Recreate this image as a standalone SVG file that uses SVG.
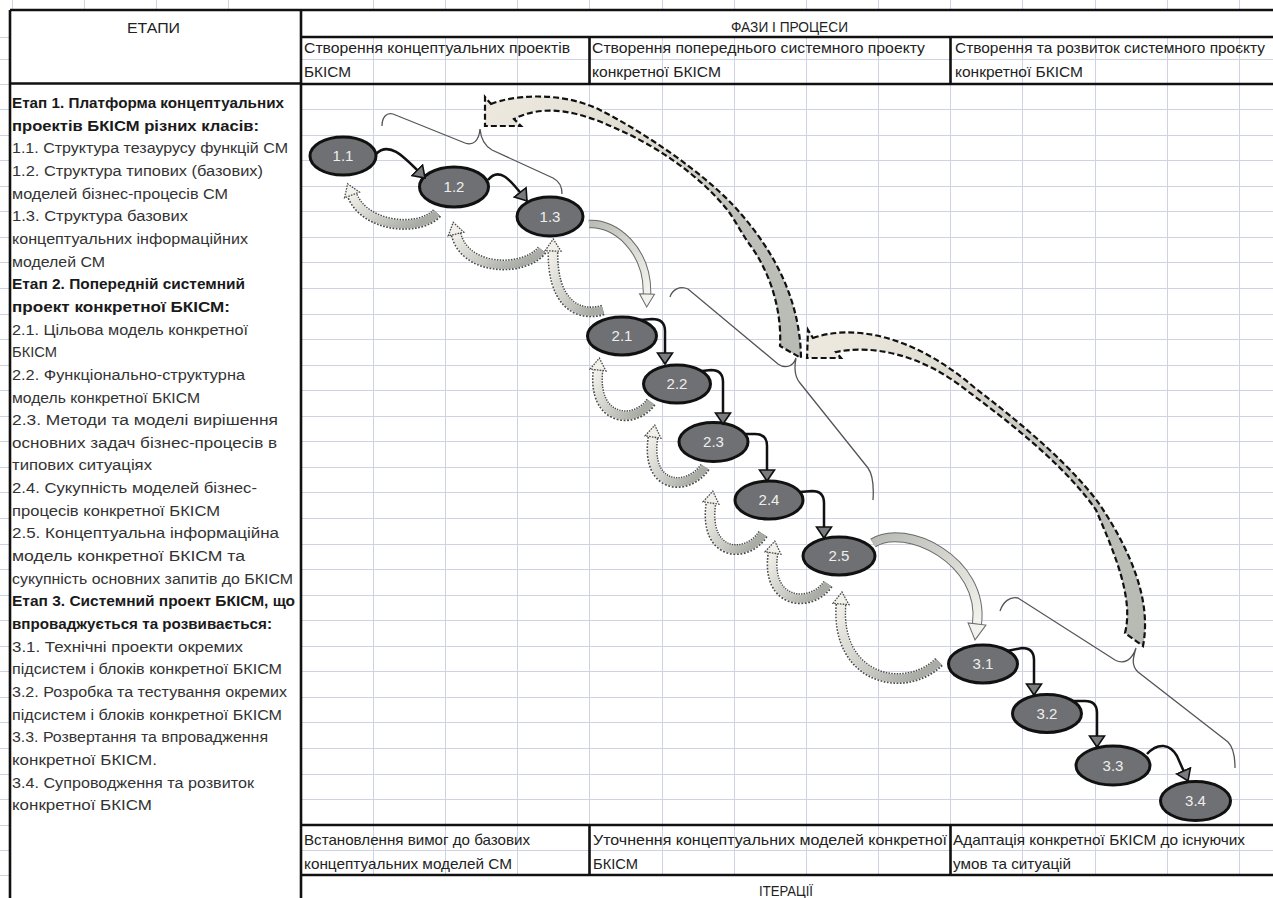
<svg xmlns="http://www.w3.org/2000/svg" width="1273" height="898" viewBox="0 0 1273 898">
<style>
.grid{stroke:#cfd2e3;stroke-width:1;fill:none}
.bord{stroke:#111;stroke-width:2.6;fill:none}
.t{font-family:"Liberation Sans",Arial,sans-serif;font-size:15px;fill:#222}
.lt{font-family:"Liberation Sans",Arial,sans-serif;font-size:15.5px;fill:#333}
.b{font-weight:bold;fill:#1a1a1a}
.node ellipse{fill:#6f7073;stroke:#111;stroke-width:3}
.node text{font-family:"Liberation Sans",Arial,sans-serif;font-size:15px;fill:#eeeeee;text-anchor:middle}
.conn{fill:none;stroke:#111;stroke-width:2.5}
.fbo{fill:none;stroke:#4a4a4a;stroke-width:11;stroke-dasharray:1.6 1.4}
.fbi{fill:none;stroke:url(#gFb);stroke-width:8}
.blo{fill:none;stroke:#6a6a6a;stroke-width:8.5}
.bli{fill:none;stroke:url(#gBl);stroke-width:6.5}
.band{stroke:#111;stroke-width:2.2;stroke-dasharray:6 3}
.brace{fill:none;stroke:#555;stroke-width:1.3}
</style>
<defs>
<marker id="mA" markerUnits="userSpaceOnUse" viewBox="0 -9 14 18" markerWidth="14" markerHeight="18" refX="12" refY="0" orient="auto"><path d="M1,-7.5 L12,0 L1,7.5 Z" fill="#7a7b7e" stroke="#111" stroke-width="1.6"/></marker>
<marker id="mF" markerUnits="userSpaceOnUse" viewBox="-2 -10 17 20" markerWidth="17" markerHeight="20" refX="0" refY="0" orient="auto"><path d="M0,-8 L12,0 L0,8 Z" fill="#f1f0ea" stroke="#4a4a4a" stroke-width="1.3" stroke-dasharray="1.6 1.2"/></marker>
<marker id="mB" markerUnits="userSpaceOnUse" viewBox="-2 -10 18 20" markerWidth="18" markerHeight="20" refX="0" refY="0" orient="auto"><path d="M0,-7.5 L13,0 L0,7.5 Z" fill="#f2f2ee" stroke="#6a6a6a" stroke-width="1"/></marker>
<marker id="mB2" markerUnits="userSpaceOnUse" viewBox="-2 -11 20 22" markerWidth="20" markerHeight="22" refX="0" refY="0" orient="auto"><path d="M0,-9 L16,0 L0,9 Z" fill="#f2f2ee" stroke="#6a6a6a" stroke-width="1"/></marker>
<linearGradient id="gFb" x1="1" y1="0.6" x2="0" y2="0"><stop offset="0" stop-color="#a9aba5"/><stop offset="0.5" stop-color="#cfd0ca"/><stop offset="1" stop-color="#f0efe8"/></linearGradient>
<linearGradient id="gBl" x1="0" y1="0" x2="1" y2="1"><stop offset="0" stop-color="#b9bbb5"/><stop offset="1" stop-color="#f3f3ee"/></linearGradient>
<linearGradient id="gA" gradientUnits="userSpaceOnUse" x1="1140" y1="640" x2="830" y2="345"><stop offset="0" stop-color="#b7b9b3"/><stop offset="0.45" stop-color="#c2c3bd"/><stop offset="0.75" stop-color="#dedbd1"/><stop offset="1" stop-color="#ece8dd"/></linearGradient>
<linearGradient id="gB" gradientUnits="userSpaceOnUse" x1="795" y1="352" x2="500" y2="105"><stop offset="0" stop-color="#b8bab4"/><stop offset="0.35" stop-color="#c0c1bb"/><stop offset="0.65" stop-color="#dfdcd2"/><stop offset="1" stop-color="#ece8dd"/></linearGradient>
</defs>
<rect width="1273" height="898" fill="#ffffff"/>
<g id="grid">
<path class="grid" d="M373.5,37V875M445.5,37V875M517.5,37V875M589.5,37V875M662.5,37V875M734.5,37V875M806.5,37V875M878.5,37V875M950.5,37V875M1022.5,37V875M1095.5,37V875M1167.5,37V875M1239.5,37V875
M12.5,0V10M84.5,0V10M156.5,0V10M228.5,0V10M373.5,0V10M445.5,0V10M517.5,0V10M589.5,0V10M662.5,0V10M734.5,0V10M806.5,0V10M878.5,0V10M950.5,0V10M1022.5,0V10M1095.5,0V10M1167.5,0V10M1239.5,0V10
M301,59.5H1273M301,109.5H1273M301,135.5H1273M301,160.5H1273M301,186.5H1273M301,211.5H1273M301,237.5H1273M301,262.5H1273M301,288.5H1273M301,314.5H1273M301,339.5H1273M301,365.5H1273M301,390.5H1273M301,416.5H1273M301,441.5H1273M301,467.5H1273M301,492.5H1273M301,518.5H1273M301,544.5H1273M301,569.5H1273M301,595.5H1273M301,620.5H1273M301,646.5H1273M301,671.5H1273M301,697.5H1273M301,722.5H1273M301,748.5H1273M301,774.5H1273M301,799.5H1273M301,850.5H1273
M0,37.5H10M0,59.5H10M0,84.5H10M0,109.5H10M0,135.5H10M0,160.5H10M0,186.5H10M0,211.5H10M0,237.5H10M0,262.5H10M0,288.5H10M0,314.5H10M0,339.5H10M0,365.5H10M0,390.5H10M0,416.5H10M0,441.5H10M0,467.5H10M0,492.5H10M0,518.5H10M0,544.5H10M0,569.5H10M0,595.5H10M0,620.5H10M0,646.5H10M0,671.5H10M0,697.5H10M0,722.5H10M0,748.5H10M0,774.5H10M0,799.5H10M0,825.5H10M0,850.5H10M0,875.5H10"/>
</g>
<g id="table">
<path class="bord" d="M10,10H1273M10,10V898M301,10V898M10,83.5H301M301,37H1273M301,84H1273M589.5,37V84M950.5,37V84M301,825H1273M301,875H1273M589.5,825V875M950.5,825V875"/>
<text class="t" x="127" y="33" textLength="53" lengthAdjust="spacingAndGlyphs">ЕТАПИ</text>
<text class="t" x="731" y="32" textLength="117" lengthAdjust="spacingAndGlyphs">ФАЗИ І ПРОЦЕСИ</text>
<text class="t" x="304" y="53" textLength="266" lengthAdjust="spacingAndGlyphs">Створення концептуальних проектів</text>
<text class="t" x="304" y="77" textLength="47" lengthAdjust="spacingAndGlyphs">БКІСМ</text>
<text class="t" x="592" y="53" textLength="333" lengthAdjust="spacingAndGlyphs">Створення попереднього системного проекту</text>
<text class="t" x="592" y="77" textLength="129" lengthAdjust="spacingAndGlyphs">конкретної БКІСМ</text>
<text class="t" x="955" y="53" textLength="310" lengthAdjust="spacingAndGlyphs">Створення та розвиток системного проєкту</text>
<text class="t" x="955" y="77" textLength="128" lengthAdjust="spacingAndGlyphs">конкретної БКІСМ</text>
<text class="t" x="304" y="845" textLength="226" lengthAdjust="spacingAndGlyphs">Встановлення вимог до базових</text>
<text class="t" x="304" y="869" textLength="208" lengthAdjust="spacingAndGlyphs">концептуальних моделей СМ</text>
<text class="t" x="593" y="845" textLength="354" lengthAdjust="spacingAndGlyphs">Уточнення концептуальних моделей конкретної</text>
<text class="t" x="593" y="869" textLength="45" lengthAdjust="spacingAndGlyphs">БКІСМ</text>
<text class="t" x="953" y="845" textLength="292" lengthAdjust="spacingAndGlyphs">Адаптація конкретної БКІСМ до існуючих</text>
<text class="t" x="953" y="869" textLength="118" lengthAdjust="spacingAndGlyphs">умов та ситуацій</text>
<text class="t" x="759" y="896" textLength="54" lengthAdjust="spacingAndGlyphs">ІТЕРАЦІЇ</text>
</g>
<g id="stages">
<text class="lt b" x="12" y="108" textLength="272" lengthAdjust="spacingAndGlyphs">Етап 1. Платформа концептуальних</text>
<text class="lt b" x="12" y="130.7" textLength="247" lengthAdjust="spacingAndGlyphs">проектів БКІСМ різних класів:</text>
<text class="lt" x="12" y="153.3" textLength="276" lengthAdjust="spacingAndGlyphs">1.1. Структура тезаурусу функцій СМ</text>
<text class="lt" x="12" y="176" textLength="251" lengthAdjust="spacingAndGlyphs">1.2. Структура типових (базових)</text>
<text class="lt" x="12" y="198.6" textLength="216" lengthAdjust="spacingAndGlyphs">моделей бізнес-процесів СМ</text>
<text class="lt" x="12" y="221.3" textLength="176" lengthAdjust="spacingAndGlyphs">1.3. Структура базових</text>
<text class="lt" x="12" y="243.9" textLength="236" lengthAdjust="spacingAndGlyphs">концептуальних інформаційних</text>
<text class="lt" x="12" y="266.6" textLength="93" lengthAdjust="spacingAndGlyphs">моделей СМ</text>
<text class="lt b" x="12" y="289.2" textLength="233" lengthAdjust="spacingAndGlyphs">Етап 2. Попередній системний</text>
<text class="lt b" x="12" y="311.9" textLength="218" lengthAdjust="spacingAndGlyphs">проект конкретної БКІСМ:</text>
<text class="lt" x="12" y="334.5" textLength="236" lengthAdjust="spacingAndGlyphs">2.1. Цільова модель конкретної</text>
<text class="lt" x="12" y="357.2" textLength="45" lengthAdjust="spacingAndGlyphs">БКІСМ</text>
<text class="lt" x="12" y="379.8" textLength="233" lengthAdjust="spacingAndGlyphs">2.2. Функціонально-структурна</text>
<text class="lt" x="12" y="402.5" textLength="188" lengthAdjust="spacingAndGlyphs">модель конкретної БКІСМ</text>
<text class="lt" x="12" y="425.1" textLength="266" lengthAdjust="spacingAndGlyphs">2.3. Методи та моделі вирішення</text>
<text class="lt" x="12" y="447.8" textLength="265" lengthAdjust="spacingAndGlyphs">основних задач бізнес-процесів в</text>
<text class="lt" x="12" y="470.4" textLength="140" lengthAdjust="spacingAndGlyphs">типових ситуаціях</text>
<text class="lt" x="12" y="493.1" textLength="245" lengthAdjust="spacingAndGlyphs">2.4. Сукупність моделей бізнес-</text>
<text class="lt" x="12" y="515.7" textLength="208" lengthAdjust="spacingAndGlyphs">процесів конкретної БКІСМ</text>
<text class="lt" x="12" y="538.4" textLength="267" lengthAdjust="spacingAndGlyphs">2.5. Концептуальна інформаційна</text>
<text class="lt" x="12" y="561" textLength="233" lengthAdjust="spacingAndGlyphs">модель конкретної БКІСМ та</text>
<text class="lt" x="12" y="583.7" textLength="281" lengthAdjust="spacingAndGlyphs">сукупність основних запитів до БКІСМ</text>
<text class="lt b" x="12" y="606.3" textLength="283" lengthAdjust="spacingAndGlyphs">Етап 3. Системний проект БКІСМ, що</text>
<text class="lt b" x="12" y="629" textLength="260" lengthAdjust="spacingAndGlyphs">впроваджується та розвивається:</text>
<text class="lt" x="12" y="651.6" textLength="231" lengthAdjust="spacingAndGlyphs">3.1. Технічні проекти окремих</text>
<text class="lt" x="12" y="674.3" textLength="270" lengthAdjust="spacingAndGlyphs">підсистем і блоків конкретної БКІСМ</text>
<text class="lt" x="12" y="696.9" textLength="275" lengthAdjust="spacingAndGlyphs">3.2. Розробка та тестування окремих</text>
<text class="lt" x="12" y="719.6" textLength="270" lengthAdjust="spacingAndGlyphs">підсистем і блоків конкретної БКІСМ</text>
<text class="lt" x="12" y="742.2" textLength="256" lengthAdjust="spacingAndGlyphs">3.3. Розвертання та впровадження</text>
<text class="lt" x="12" y="764.9" textLength="145" lengthAdjust="spacingAndGlyphs">конкретної БКІСМ.</text>
<text class="lt" x="12" y="787.5" textLength="242" lengthAdjust="spacingAndGlyphs">3.4. Супроводження та розвиток</text>
<text class="lt" x="12" y="810.2" textLength="140" lengthAdjust="spacingAndGlyphs">конкретної БКІСМ</text>
</g>
<g id="braces">
<path class="brace" d="M382,126 C382,118 386,112 393,114 L465,143 C473,146 479,141 480,129 C481,140 485,146 492,150 L553,178 C559,181 562,186 562,194"/>
<path class="brace" d="M670,297 C672,290 680,285 688,289 L778,364 C785,369 793,367 796,358 C794,368 794,376 800,383 L868,468 C873,475 874,485 873,500"/>
<path class="brace" d="M1000,611 C1003,602 1010,596 1018,598 L1115,660 C1124,665 1132,660 1136,648 C1133,658 1131,665 1138,672 L1228,742 C1233,747 1235,755 1235,768"/>
</g>
<g id="connectors">
<path class="band" fill="url(#gB)" d="M491,104 C510,96 560,90 600,110 C640,130 700,170 733,205 C770,245 800,295 801,358 L780,346 C782,310 770,272 750,245 C742,234 736,222 729,212 C700,175 655,145 615,128 C580,112 545,103 514,119 L521,126 L485,126 L485,97 Z"/>
<path class="band" fill="url(#gA)" d="M813,338 C850,325 910,332 975,388 C1030,430 1075,470 1100,505 C1130,550 1152,600 1143,646 L1125,633 C1134,598 1114,552 1096,510 C1071,474 1026,434 970,393 C920,352 870,345 836,352 L841,358 L807,358 L808,330 Z"/>
<path class="blo" d="M589,224 C615,222 648,250 647,294"/>
<path class="bli" marker-end="url(#mB)" d="M589,224 C615,222 648,250 647,294"/>
<path class="blo" style="stroke-width:10" d="M873,543 C905,522 985,560 977,624"/>
<path class="bli" style="stroke-width:8" marker-end="url(#mB2)" d="M873,543 C905,522 985,560 977,624"/>
<path class="fbo" d="M437,213 C420,232 365,228 352,195"/>
<path class="fbi" marker-end="url(#mF)" d="M437,213 C420,232 365,228 352,195"/>
<path class="fbo" d="M542,250 C525,272 465,272 456,234"/>
<path class="fbi" marker-end="url(#mF)" d="M542,250 C525,272 465,272 456,234"/>
<path class="fbo" d="M603,310 C575,318 552,300 553,251"/>
<path class="fbi" marker-end="url(#mF)" d="M603,310 C575,318 552,300 553,251"/>
<path class="fbo" d="M651,402 C635,425 592,422 598,370"/>
<path class="fbi" marker-end="url(#mF)" d="M651,402 C635,425 592,422 598,370"/>
<path class="fbo" d="M705,467 C688,492 645,490 653,437"/>
<path class="fbi" marker-end="url(#mF)" d="M705,467 C688,492 645,490 653,437"/>
<path class="fbo" d="M763,534 C746,560 703,556 711,503"/>
<path class="fbi" marker-end="url(#mF)" d="M763,534 C746,560 703,556 711,503"/>
<path class="fbo" d="M828,584 C812,608 765,606 773,553"/>
<path class="fbi" marker-end="url(#mF)" d="M828,584 C812,608 765,606 773,553"/>
<path class="fbo" d="M939,662 C905,695 835,680 841,604"/>
<path class="fbi" marker-end="url(#mF)" d="M939,662 C905,695 835,680 841,604"/>
</g>
<g id="n11" class="node"><ellipse cx="343" cy="156" rx="33" ry="19"/><text x="343" y="161">1.1</text></g>
<g id="n12" class="node"><ellipse cx="454" cy="187" rx="34.5" ry="20"/><text x="454" y="192">1.2</text></g>
<g id="n13" class="node"><ellipse cx="550" cy="216.5" rx="33" ry="19.5"/><text x="550" y="221.5">1.3</text></g>
<g id="n21" class="node"><ellipse cx="622" cy="336" rx="34.5" ry="19"/><text x="622" y="341">2.1</text></g>
<g id="n22" class="node"><ellipse cx="677" cy="384" rx="33.5" ry="19"/><text x="677" y="389">2.2</text></g>
<g id="n23" class="node"><ellipse cx="713.5" cy="442" rx="34.5" ry="19.5"/><text x="713.5" y="447">2.3</text></g>
<g id="n24" class="node"><ellipse cx="769" cy="500" rx="34" ry="19"/><text x="769" y="505">2.4</text></g>
<g id="n25" class="node"><ellipse cx="839" cy="556" rx="36" ry="19"/><text x="839" y="561">2.5</text></g>
<g id="n31" class="node"><ellipse cx="983" cy="664" rx="34.5" ry="19"/><text x="983" y="669">3.1</text></g>
<g id="n32" class="node"><ellipse cx="1047" cy="713.5" rx="34.5" ry="19"/><text x="1047" y="718.5">3.2</text></g>
<g id="n33" class="node"><ellipse cx="1113" cy="765.5" rx="37" ry="19.5"/><text x="1113" y="770.5">3.3</text></g>
<g id="n34" class="node"><ellipse cx="1195.5" cy="801" rx="35" ry="19.5"/><text x="1195.5" y="806">3.4</text></g>
<g id="flow">
<path class="conn" marker-end="url(#mA)" d="M376,154 C390,140 405,158 425,178"/>
<path class="conn" marker-end="url(#mA)" d="M488,180 C500,165 512,182 527,201"/>
<path class="conn" marker-end="url(#mA)" d="M640,320 L652,319 Q665,319 665,331 L665,364"/>
<path class="conn" marker-end="url(#mA)" d="M702,371 L711,370 Q723,370 723,382 L723,424"/>
<path class="conn" marker-end="url(#mA)" d="M745,434 L755,434 Q767,434 767,446 L767,481"/>
<path class="conn" marker-end="url(#mA)" d="M800,492 L812,491 Q824,491 824,503 L824,538"/>
<path class="conn" marker-end="url(#mA)" d="M1007,651 L1022,648 Q1034,648 1034,660 L1034,695"/>
<path class="conn" marker-end="url(#mA)" d="M1072,701 L1085,701 Q1097,701 1097,713 L1097,747"/>
<path class="conn" marker-end="url(#mA)" d="M1147,754 C1158,742 1170,744 1177,756 L1188,781"/>
</g>
</svg>
